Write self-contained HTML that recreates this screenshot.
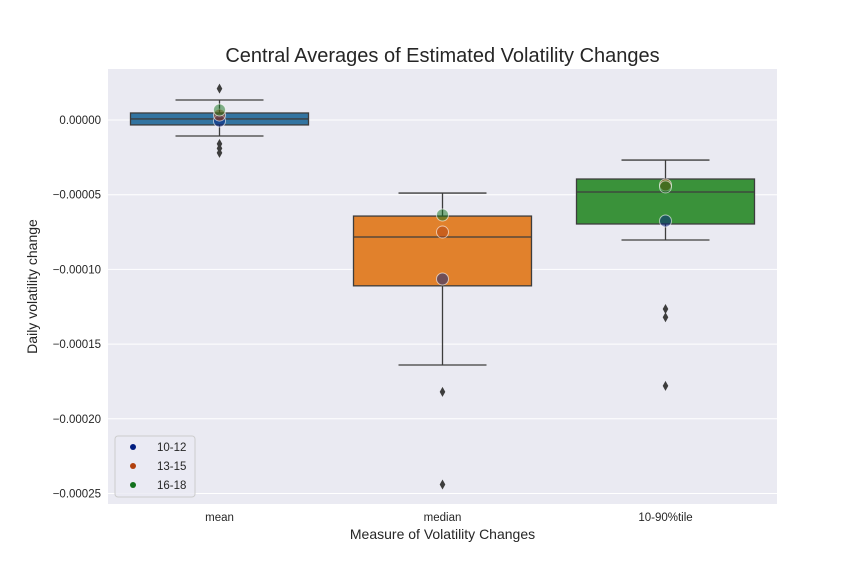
<!DOCTYPE html>
<html><head><meta charset="utf-8"><style>
body{margin:0;background:#fff;}
svg{display:block;font-family:"Liberation Sans",Arial,sans-serif;}
</style></head><body>
<svg id="c" width="864" height="576"></svg>
<script>
const categories=["mean","median","10-90%tile"];
const q1=[-0.0000033,-0.000111,-0.0000696];
const med=[0.0000007,-0.0000783,-0.0000482];
const q3=[0.0000047,-0.0000643,-0.0000395];
const whiskLo=[-0.0000107,-0.000164,-0.0000803];
const whiskHi=[0.0000134,-0.0000489,-0.0000268];
const fliers=[[0.000021,-0.000016,-0.000019,-0.000022],[-0.000182,-0.000244],[-0.0001265,-0.000132,-0.000178]];
const seriesNames=["10-12","13-15","16-18"];
const s1012=[-0.0000007,-0.0001064,-0.0000676];
const s1315=[0.0000033,-0.000075,-0.0000435];
const s1618=[0.0000067,-0.0000636,-0.0000448];
const yTicks=[0,-0.00005,-0.0001,-0.00015,-0.0002,-0.00025];
const yTickLabels=["0.00000","\u22120.00005","\u22120.00010","\u22120.00015","\u22120.00020","\u22120.00025"];

const L=108,R=777,T=69,B=504;
const y=v=>120-v*1494000;
const x=i=>L+(R-L)/3*(i+0.5);
const NS="http://www.w3.org/2000/svg";
const svg=document.getElementById('c');
function mk(tag,attrs,parent){const e=document.createElementNS(NS,tag);for(const k in attrs)e.setAttribute(k,attrs[k]);(parent||svg).appendChild(e);return e;}
let bg=mk('rect',{x:L,y:T,width:R-L,height:B-T,fill:'#eaeaf2'});


yTicks.forEach((v,i)=>{
 let g=mk('line',{x1:L,x2:R,y1:y(v),y2:y(v),stroke:'#fff','stroke-width':1});
 
 
 let t=mk('text',{x:L-7,y:y(v)+4,'text-anchor':'end','font-size':11.5,fill:'#262626'});
 t.textContent=yTickLabels[i];
 
 
});
const boxCols=["#3274a1","#e1812c","#3a923a"];
const line='#3d3d3d';
categories.forEach((c,i)=>{
 const cx=x(i),hw=89;
 mk('line',{x1:cx,x2:cx,y1:y(whiskHi[i]),y2:y(q3[i]),stroke:line,'stroke-width':1.3});
 mk('line',{x1:cx,x2:cx,y1:y(q1[i]),y2:y(whiskLo[i]),stroke:line,'stroke-width':1.3});
 mk('line',{x1:cx-44,x2:cx+44,y1:y(whiskHi[i]),y2:y(whiskHi[i]),stroke:line,'stroke-width':1.3});
 mk('line',{x1:cx-44,x2:cx+44,y1:y(whiskLo[i]),y2:y(whiskLo[i]),stroke:line,'stroke-width':1.3});
 let b=mk('rect',{x:cx-hw,y:y(q3[i]),width:2*hw,height:y(q1[i])-y(q3[i]),fill:boxCols[i],stroke:line,'stroke-width':1.3});
 
 
 mk('line',{x1:cx-hw,x2:cx+hw,y1:y(med[i]),y2:y(med[i]),stroke:line,'stroke-width':1.3});
 fliers[i].forEach(f=>{
  let d=mk('path',{d:`M${cx},${y(f)-5}L${cx+2.8},${y(f)}L${cx},${y(f)+5}L${cx-2.8},${y(f)}Z`,fill:line});
  
  
 });
 let t=mk('text',{x:cx,y:B+17,'text-anchor':'middle','font-size':11.5,fill:'#262626'});
 t.textContent=c;
 
 
});
const ptCols=["#001c7f","#b1400d","#12711c"];
[s1012,s1315,s1618].forEach((s,k)=>{
 s.forEach((v,i)=>{
  let p=mk('circle',{cx:x(i),cy:y(v),r:6,fill:ptCols[k],'fill-opacity':0.5,stroke:'#fff','stroke-opacity':0.6,'stroke-width':1});
  
  
 });
});
let tt=mk('text',{x:(L+R)/2,y:62,'text-anchor':'middle','font-size':20,fill:'#262626'});
tt.textContent='Central Averages of Estimated Volatility Changes';


let xt=mk('text',{x:(L+R)/2,y:539,'text-anchor':'middle','font-size':14,fill:'#262626'});
xt.textContent='Measure of Volatility Changes';


let yt=mk('text',{x:37,y:(T+B)/2,'text-anchor':'middle','font-size':14,fill:'#262626',transform:`rotate(-90 37 ${(T+B)/2})`});
yt.textContent='Daily volatility change';


let lg=mk('g',{});


mk('rect',{x:115,y:436,width:80,height:61,rx:3,fill:'#eaeaf2','fill-opacity':0.8,stroke:'#ccc'},lg);
seriesNames.forEach((n,k)=>{
 let e=mk('g',{},lg);
 
 
 mk('circle',{cx:133,cy:447+k*19,r:3,fill:ptCols[k]},e);
 let t=mk('text',{x:157,y:451+k*19,'font-size':11.5,fill:'#262626'},e);
 t.textContent=n;
});
</script>
</body></html>
